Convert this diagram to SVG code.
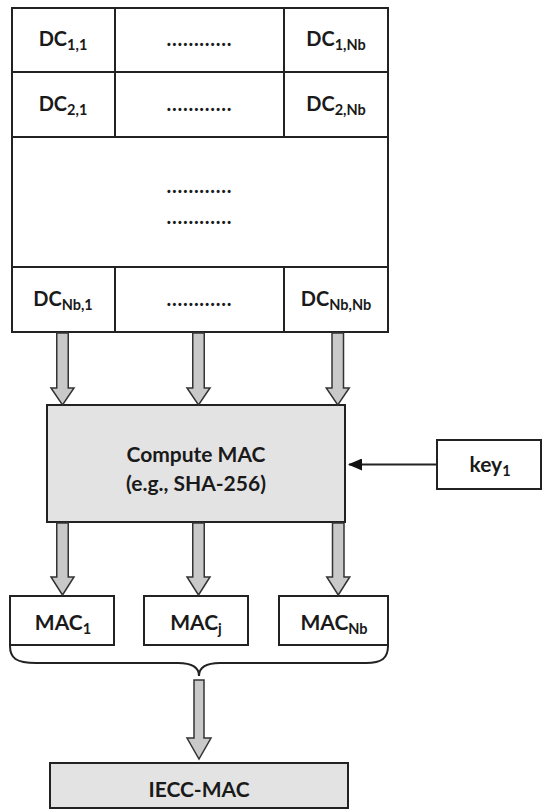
<svg xmlns="http://www.w3.org/2000/svg" width="542" height="809" viewBox="0 0 542 809">
<style>
.t{font-family:"Lato","Open Sans","Liberation Sans",sans-serif;font-weight:bold;fill:#1a1a1a;text-anchor:middle}
.dc{font-size:20px}
.m{font-size:21px}
.sub{font-size:14.5px}
.box{fill:#fff;stroke:#222;stroke-width:2}
.gbox{fill:#e3e3e3;stroke:#222;stroke-width:2}
.ln{stroke:#222;stroke-width:2;fill:none}
.blk{fill:#c9c9c9;stroke:#333;stroke-width:1.5;stroke-linejoin:miter}
</style>
<defs>
<marker id="ah" markerWidth="14" markerHeight="12" refX="13" refY="6" orient="auto" markerUnits="userSpaceOnUse">
<path d="M0,0 L14,6 L0,12 Z" fill="#111"/>
</marker>
</defs>
<rect width="542" height="809" fill="#fff"/>

<g id="grid">
<rect class="box" x="12" y="8" width="376" height="324"/>
<line class="ln" x1="12" y1="72" x2="388" y2="72"/>
<line class="ln" x1="12" y1="137" x2="388" y2="137"/>
<line class="ln" x1="12" y1="267" x2="388" y2="267"/>
<line class="ln" x1="115" y1="8" x2="115" y2="137"/>
<line class="ln" x1="284" y1="8" x2="284" y2="137"/>
<line class="ln" x1="115" y1="267" x2="115" y2="332"/>
<line class="ln" x1="284" y1="267" x2="284" y2="332"/>
</g>
<g id="dc11"><text class="t dc" x="63" y="46">DC<tspan class="sub" dy="4">1,1</tspan></text></g>
<g id="dots1"><text class="t dc" x="199" y="46" textLength="65">............</text></g>
<g id="dc1nb"><text class="t dc" x="336" y="46">DC<tspan class="sub" dy="4">1,Nb</tspan></text></g>
<g id="dc21"><text class="t dc" x="63" y="110.5">DC<tspan class="sub" dy="4">2,1</tspan></text></g>
<g id="dots2"><text class="t dc" x="199" y="110.5" textLength="65">............</text></g>
<g id="dc2nb"><text class="t dc" x="336" y="110.5">DC<tspan class="sub" dy="4">2,Nb</tspan></text></g>
<g id="dotsmid">
<text class="t dc" x="199" y="193" textLength="65">............</text>
<text class="t dc" x="199" y="224" textLength="65">............</text>
</g>
<g id="dcnb1"><text class="t dc" x="63" y="305.5">DC<tspan class="sub" dy="4">Nb,1</tspan></text></g>
<g id="dots3"><text class="t dc" x="199" y="305.5" textLength="65">............</text></g>
<g id="dcnbnb"><text class="t dc" x="336" y="305.5">DC<tspan class="sub" dy="4">Nb,Nb</tspan></text></g>

<g id="compute">
<rect class="gbox" x="47" y="405" width="298" height="117"/>
<text class="t m" x="196" y="462">Compute MAC</text>
<text class="t m" x="196" y="491">(e.g., SHA-256)</text>
</g>

<g id="key">
<rect class="box" x="437" y="440" width="104" height="49"/>
<text class="t m" x="490" y="472">key<tspan class="sub" dy="4">1</tspan></text>
</g>

<g id="mac1"><rect class="box" x="10" y="596" width="104" height="49"/><text class="t m" x="63" y="630">MAC<tspan class="sub" dy="4">1</tspan></text></g>
<g id="macj"><rect class="box" x="144" y="596" width="104" height="49"/><text class="t m" x="196" y="630">MAC<tspan class="sub" dy="4">j</tspan></text></g>
<g id="macnb"><rect class="box" x="279" y="596" width="109" height="49"/><text class="t m" x="334" y="630">MAC<tspan class="sub" dy="4">Nb</tspan></text></g>

<g id="iecc">
<rect class="gbox" x="50" y="763" width="298" height="45"/>
<text class="t m" x="199" y="797">IECC-MAC</text>
</g>

<g id="connectors">
<path class="blk" d="M56.75,333 H68.25 V388 H74 L62.5,405 L51,388 H56.75 Z"/>
<path class="blk" d="M192.75,333 H204.25 V388 H210 L198.5,405 L187,388 H192.75 Z"/>
<path class="blk" d="M332,333 H343.5 V388 H349.25 L337.75,405 L326.25,388 H332 Z"/>
<path class="blk" d="M56.75,523 H68.25 V577 H74 L62.5,595 L51,577 H56.75 Z"/>
<path class="blk" d="M192.75,523 H204.25 V577 H210 L198.5,595 L187,577 H192.75 Z"/>
<path class="blk" d="M332.5,523 H344 V577 H349.75 L338.25,595 L326.75,577 H332.5 Z"/>
<path class="ln" d="M10,646 C10,658 16,663 36,663 L178,663 C192,663 199,668 199,676 C199,668 206,663 220,663 L366,663 C382,663 388,658 388,646"/>
<path class="blk" d="M194,680 H204 V738 H211 L199,759 L187,738 H194 Z"/>
<line class="ln" x1="437" y1="464.5" x2="349" y2="464.5" marker-end="url(#ah)" stroke-width="1.8"/>
</g>
</svg>
